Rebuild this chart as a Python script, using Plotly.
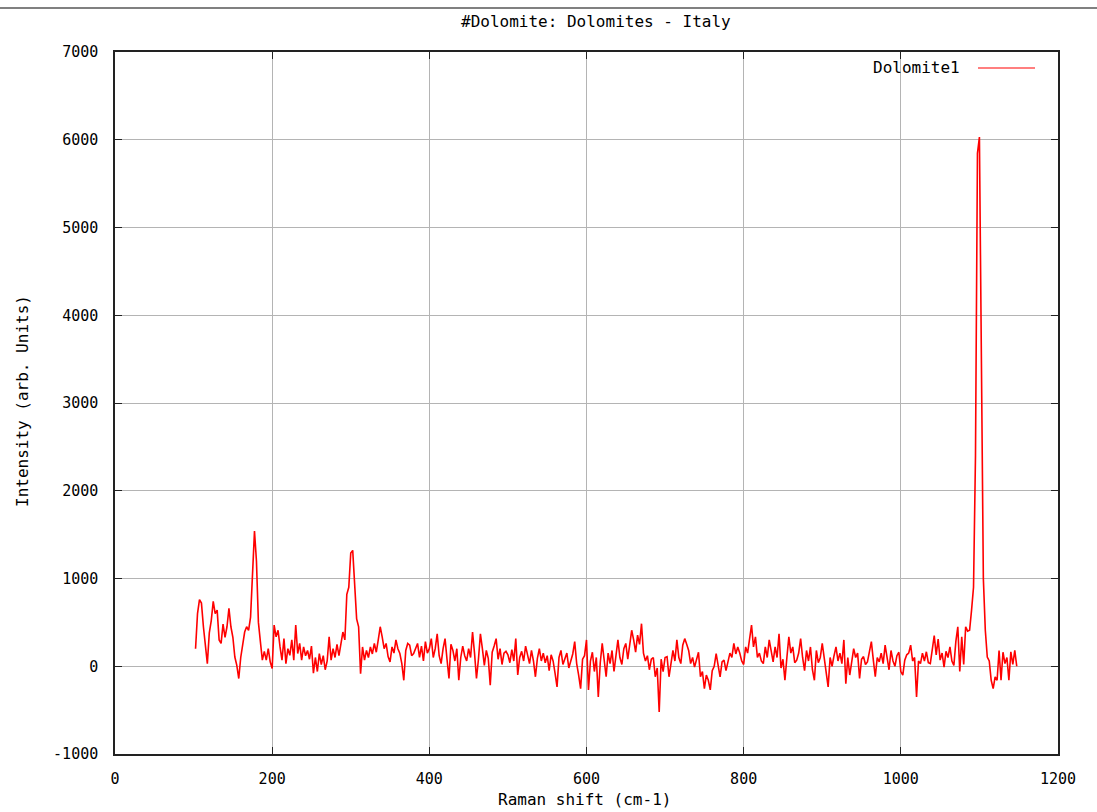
import numpy as np
import plotly.graph_objects as go

# Raman shift sampling grid (cm-1)
shift_start = 102.5
shift_step = 2.5

# Intensity (arb. units), one row per 50 cm-1
intensity = [
    200, 600, 760, 720, 450, 200, 30, 380, 520, 740, 600, 640, 300, 260, 480, 330, 450, 660, 450, 330,
    105, 10, -140, 100, 240, 390, 450, 410, 560, 1000, 1540, 1200, 500, 280, 70, 170, 70, 200, 50, -25,
    470, 335, 410, 220, 70, 315, 30, 200, 125, 300, 70, 470, 145, 260, 70, 220, 120, 180, 80, 230,
    -80, 100, -60, 145, 20, 120, -40, 60, 335, 70, 200, 100, 250, 120, 260, 390, 300, 820, 900, 1290,
    1320, 980, 540, 450, -85, 220, 70, 180, 100, 220, 140, 260, 160, 300, 450, 335, 200, 260, 110, 50,
    220, 150, 300, 200, 145, 30, -160, 180, 260, 240, 120, 145, 200, 260, 100, 230, 60, 280, 150, 200,
    315, 100, 200, 370, 120, 30, 200, 315, 80, -140, 250, 180, 60, 200, -160, 100, 230, 120, 60, 200,
    100, 390, 150, -140, 80, 370, 200, 10, 180, 90, -215, 160, 230, 315, 80, 200, 20, 150, 170, 130,
    40, 190, 60, 315, -100, 100, 170, 60, 230, 120, 30, 180, 60, -120, 90, 200, 60, 150, 40, 120,
    -50, 130, 60, -80, -235, 100, 180, 20, 100, 150, -20, 60, 140, 280, 30, -100, -255, 80, 120, 300,
    -270, 60, 160, -60, 100, -350, 40, 260, 100, -120, 150, 30, 180, -60, 120, 300, 100, 20, 200, 260,
    80, 230, 410, 300, 160, 355, 250, 485, 150, 60, 120, -40, 80, 100, -120, -20, -520, 80, -60, 100,
    110, -120, 50, 180, 60, 300, 100, 30, 240, 315, 250, 180, 30, 100, -10, 80, 160, -120, -60, -255,
    -100, -160, -270, -50, 0, 145, 20, -120, 50, 70, -50, 60, 150, 100, 260, 140, 220, 150, 60, 20,
    220, 150, 300, 470, 220, 335, 100, 150, 60, 30, 220, 100, 300, 170, 50, 220, 100, 370, -20, 80,
    -160, 100, 335, 150, 220, 40, 70, 150, 315, 100, -50, 180, 60, 220, -40, -160, 180, 40, 100, 260,
    80, -60, -235, 100, 0, 120, 220, 60, 150, 30, 300, -200, 100, -100, 60, 200, 100, 150, -140, 80,
    110, 20, 50, 160, 280, 70, -120, 100, 50, 150, 30, 240, 100, -40, 180, 60, 0, 120, 160, -60,
    -100, 70, 130, 150, 240, 60, 100, -350, 60, 30, 150, 60, 165, 40, 30, 200, 350, 130, 310, 70,
    150, -10, 170, 100, 220, 60, 10, 280, 450, -60, 335, 20, 450, 400, 410, 640, 900, 2400, 5845, 6030,
    3000, 1000, 410, 105, 60, -160, -255, -120, -160, 180, -160, 160, 30, 100, -160, 165, 20, 180, 0,
]
raman_shift = shift_start + shift_step * np.arange(len(intensity))

title_text = "#Dolomite: Dolomites - Italy"
x_title = "Raman shift (cm-1)"
y_title = "Intensity (arb. Units)"
series_name = "Dolomite1"
x_ticks = [0, 200, 400, 600, 800, 1000, 1200]
y_ticks = [-1000, 0, 1000, 2000, 3000, 4000, 5000, 6000, 7000]

FONT = "DejaVu Sans Mono"
W, H = 1097, 812
L, R, T, B = 115, 1058, 52, 754
pw, ph = R - L, B - T

def px(xp):
    return (xp - L) / pw

def py(yp):
    return (B - yp) / ph

fig = go.Figure()
fig.add_trace(go.Scatter(
    x=raman_shift, y=intensity, mode="lines", name=series_name,
    line=dict(color="#ff0000", width=1.6), showlegend=False,
))

axis_common = dict(
    showgrid=True, gridcolor="#b4b4b4", gridwidth=1,
    zeroline=False, showline=True, linecolor="#222222", linewidth=1.5,
    mirror="allticks", ticks="inside", ticklen=7, tickcolor="#222222",
    tickfont=dict(family=FONT, size=15, color="#000000"),
)

fig.update_xaxes(range=[0, 1200], tickvals=x_ticks, ticktext=[str(v) for v in x_ticks],
                 ticklabelstandoff=10, **axis_common)
fig.update_yaxes(range=[-1000, 7000], tickvals=y_ticks, ticktext=[str(v) for v in y_ticks],
                 ticklabelstandoff=12, **axis_common)

fig.update_layout(
    width=W, height=H,
    margin=dict(l=L, r=W - R, t=T, b=H - B, pad=0),
    paper_bgcolor="#ffffff", plot_bgcolor="#ffffff",
    showlegend=False,
    annotations=[
        dict(text=title_text, x=px(596), y=py(22), xref="paper", yref="paper",
             showarrow=False, font=dict(family=FONT, size=16, color="#000"),
             xanchor="center", yanchor="middle"),
        dict(text=x_title, x=px(584), y=py(800), xref="paper", yref="paper",
             showarrow=False, font=dict(family=FONT, size=16, color="#000"),
             xanchor="center", yanchor="middle"),
        dict(text=y_title, x=px(22), y=py(401), xref="paper", yref="paper",
             showarrow=False, textangle=-90, font=dict(family=FONT, size=16, color="#000"),
             xanchor="center", yanchor="middle"),
        dict(text=series_name, x=px(962), y=py(68), xref="paper", yref="paper",
             showarrow=False, font=dict(family=FONT, size=16, color="#000"),
             xanchor="right", yanchor="middle"),
    ],
    shapes=[
        dict(type="line", xref="paper", yref="paper", x0=px(978), x1=px(1035),
             y0=py(68), y1=py(68), line=dict(color="#ff0000", width=1.2)),
        dict(type="line", xref="paper", yref="paper", x0=px(0), x1=px(W),
             y0=py(8), y1=py(8), line=dict(color="#808080", width=2)),
    ],
)

fig.write_html("out.html")
